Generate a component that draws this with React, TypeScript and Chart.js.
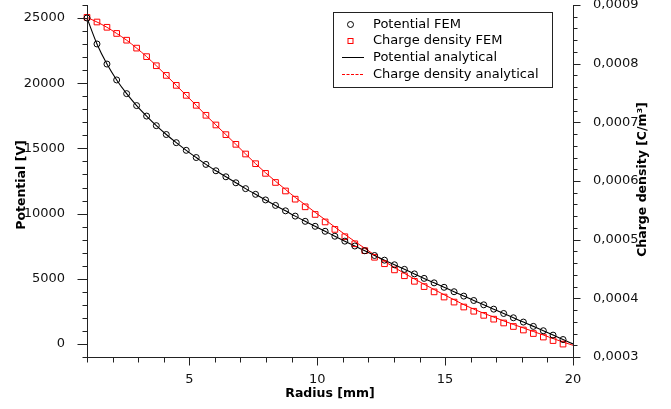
import React, { useEffect, useRef } from 'react';
import { Chart, registerables } from 'chart.js';

Chart.register(...registerables);

// Radius nodes [mm]
const radius = [
  1.0, 1.39, 1.78, 2.16, 2.55, 2.94, 3.33, 3.71, 4.1, 4.49,
  4.88, 5.27, 5.65, 6.04, 6.43, 6.82, 7.2, 7.59, 7.98, 8.37,
  8.76, 9.14, 9.53, 9.92, 10.31, 10.69, 11.08, 11.47, 11.86, 12.24,
  12.63, 13.02, 13.41, 13.8, 14.18, 14.57, 14.96, 15.35, 15.73, 16.12,
  16.51, 16.9, 17.29, 17.67, 18.06, 18.45, 18.84, 19.22, 19.61, 20.0,
];

// Potential FEM [V] (nodes 0..48)
const potentialFEM = [
  25000, 23010, 21470, 20250, 19200, 18285, 17480, 16745, 16065, 15440,
  14852, 14300, 13772, 13285, 12823, 12363, 11915, 11477, 11048, 10627,
  10213, 9806, 9406, 9024, 8643, 8264, 7886, 7514, 7148, 6786,
  6428, 6074, 5723, 5375, 5030, 4687, 4346, 4007, 3670, 3335,
  3002, 2670, 2339, 2009, 1679, 1349, 1015, 678, 340,
];

// Charge density FEM [C/m^3] (nodes 0..48)
const chargeFEM = [
  0.000879, 0.000871, 0.000862, 0.0008515, 0.00084, 0.0008265, 0.000812, 0.0007965, 0.00078, 0.000763,
  0.000746, 0.000729, 0.000712, 0.0006955, 0.000679, 0.0006625, 0.000646, 0.0006295, 0.000613, 0.0005975,
  0.000583, 0.000569, 0.000556, 0.000543, 0.0005302, 0.0005175, 0.000505, 0.000493, 0.0004813, 0.00047,
  0.000459, 0.0004485, 0.0004385, 0.000429, 0.00042, 0.000411, 0.0004022, 0.0003936, 0.0003852, 0.000378,
  0.000371, 0.0003645, 0.000358, 0.000352, 0.000346, 0.00034, 0.000334, 0.000328, 0.000322,
];

// Potential analytical [V] (nodes 0..49)
const potentialAnalytical = [
  25000, 23010, 21470, 20250, 19200, 18285, 17480, 16745, 16065, 15440,
  14852, 14300, 13772, 13285, 12823, 12363, 11915, 11477, 11048, 10627,
  10213, 9806, 9406, 9024, 8643, 8264, 7886, 7514, 7148, 6786,
  6428, 6074, 5723, 5375, 5030, 4687, 4346, 4007, 3670, 3335,
  3002, 2670, 2339, 2009, 1679, 1349, 1015, 678, 340, 0,
];

// Charge density analytical [C/m^3] (nodes 0..49)
const chargeAnalytical = [
  0.000879, 0.000871, 0.000862, 0.0008515, 0.00084, 0.0008265, 0.000812, 0.0007965, 0.00078, 0.000763,
  0.000746, 0.000729, 0.000712, 0.0006955, 0.000679, 0.0006625, 0.000646, 0.0006295, 0.000614, 0.0005995,
  0.0005855, 0.000572, 0.0005595, 0.0005465, 0.000534, 0.0005215, 0.000509, 0.000497, 0.0004853, 0.000474,
  0.000463, 0.0004525, 0.0004425, 0.000433, 0.000424, 0.000415, 0.0004062, 0.0003976, 0.0003892, 0.0003815,
  0.0003745, 0.000368, 0.0003615, 0.0003555, 0.0003495, 0.0003435, 0.0003375, 0.0003315, 0.0003255, 0.00032,
];

// Axis tick labels
const xMajorTicks = [5, 10, 15, 20];
const potentialMajorTicks = [0, 5000, 10000, 15000, 20000, 25000];
const chargeMajorTicks = [0.0003, 0.0004, 0.0005, 0.0006, 0.0007, 0.0008, 0.0009];

const legendLabels = ['Potential FEM', 'Charge density FEM', 'Potential analytical', 'Charge density analytical'];

const FONT = "'DejaVu Sans', sans-serif";

export default function App() {
  const ref = useRef<HTMLCanvasElement>(null);

  useEffect(() => {
    const canvas = ref.current;
    if (!canvas) return;

    const xTickVals: number[] = [];
    for (let v = 1; v <= 20; v++) xTickVals.push(v);
    const yTickVals: number[] = [];
    for (let v = -1000; v <= 26000; v += 1000) yTickVals.push(v);
    const y1TickVals: number[] = [];
    for (let i = 0; i <= 30; i++) y1TickVals.push(+(0.0003 + i * 0.00002).toFixed(6));

    const isMajorCharge = (v: number) => chargeMajorTicks.some((m) => Math.abs(m - v) < 1e-9);

    const zeroPad = (s: any) => {
      s.paddingTop = 0; s.paddingBottom = 0; s.paddingLeft = 0; s.paddingRight = 0;
    };

    const decor = {
      id: 'decor',
      afterDraw(chart: any) {
        const { ctx, chartArea: a, scales } = chart;
        const xs = scales.x, ys = scales.y, y1 = scales.y1;
        ctx.save();
        ctx.lineWidth = 1;
        ctx.strokeStyle = '#222';
        const L = a.left + 0.5, R = a.right + 0.5, B = a.bottom + 0.5;
        ctx.beginPath();
        ctx.moveTo(L, a.top); ctx.lineTo(L, B);
        ctx.moveTo(a.left, B); ctx.lineTo(R, B);
        ctx.moveTo(R, a.top); ctx.lineTo(R, B);
        xTickVals.forEach((v) => {
          const px = Math.round(xs.getPixelForValue(v)) + 0.5;
          const len = xMajorTicks.includes(v) ? 8 : 5;
          ctx.moveTo(px, B); ctx.lineTo(px, B + len);
        });
        yTickVals.forEach((v) => {
          const py = Math.round(ys.getPixelForValue(v)) + 0.5;
          const len = potentialMajorTicks.includes(v) ? 10 : 5;
          ctx.moveTo(L, py); ctx.lineTo(L - len, py);
        });
        y1TickVals.forEach((v) => {
          const py = Math.round(y1.getPixelForValue(v)) + 0.5;
          const len = isMajorCharge(v) ? 7 : 4;
          ctx.moveTo(R, py); ctx.lineTo(R + len, py);
        });
        ctx.stroke();

        // axis titles
        ctx.fillStyle = '#000';
        ctx.font = `bold 12.5px ${FONT}`;
        ctx.textAlign = 'center';
        ctx.textBaseline = 'middle';
        ctx.fillText('Radius [mm]', (a.left + a.right) / 2, 393.5);
        ctx.save();
        ctx.translate(21.5, 185);
        ctx.rotate(-Math.PI / 2);
        ctx.fillText('Potential [V]', 0, 0);
        ctx.restore();
        ctx.save();
        ctx.translate(643, 179.5);
        ctx.rotate(-Math.PI / 2);
        ctx.fillText('Charge density [C/m³]', 0, 0);
        ctx.restore();

        // legend
        const bx = 333.5, by = 12.5, bw = 219, bh = 75;
        ctx.fillStyle = '#fff';
        ctx.fillRect(bx, by, bw, bh);
        ctx.strokeStyle = '#222';
        ctx.strokeRect(bx, by, bw, bh);
        const rows = [24.5, 41, 57.5, 74.5];
        const sx = 350.5;
        ctx.beginPath();
        ctx.strokeStyle = '#000';
        ctx.arc(sx, rows[0], 3, 0, Math.PI * 2);
        ctx.stroke();
        ctx.strokeStyle = '#ff0000';
        ctx.strokeRect(sx - 2.5, 38.5, 5, 5);
        ctx.strokeStyle = '#000';
        ctx.beginPath();
        ctx.moveTo(342, rows[2]); ctx.lineTo(364, rows[2]);
        ctx.stroke();
        ctx.strokeStyle = '#ff0000';
        ctx.setLineDash([3, 1.5]);
        ctx.beginPath();
        ctx.moveTo(342, rows[3]); ctx.lineTo(364, rows[3]);
        ctx.stroke();
        ctx.setLineDash([]);
        ctx.fillStyle = '#000';
        ctx.font = `13px ${FONT}`;
        ctx.textAlign = 'left';
        ctx.textBaseline = 'middle';
        legendLabels.forEach((t, i) => ctx.fillText(t, 373, rows[i]));
        ctx.restore();
      },
    };

    const tickFont = { family: FONT, size: 13 };

    const chart = new Chart(canvas, {
      type: 'line',
      data: {
        datasets: [
          {
            label: legendLabels[0],
            data: potentialFEM.map((y, i) => ({ x: radius[i], y })),
            yAxisID: 'y',
            showLine: false,
            pointStyle: 'circle',
            pointRadius: 3,
            borderColor: '#000',
            backgroundColor: 'rgba(0,0,0,0)',
            pointBorderWidth: 1,
            clip: false,
            order: 1,
          },
          {
            label: legendLabels[1],
            data: chargeFEM.map((y, i) => ({ x: radius[i], y })),
            yAxisID: 'y1',
            showLine: false,
            pointStyle: 'rect',
            pointRadius: 4,
            borderColor: '#ff0000',
            backgroundColor: 'rgba(0,0,0,0)',
            pointBorderWidth: 1,
            clip: false,
            order: 2,
          },
          {
            label: legendLabels[2],
            data: potentialAnalytical.map((y, i) => ({ x: radius[i], y })),
            yAxisID: 'y',
            pointRadius: 0,
            borderWidth: 1.1,
            borderColor: '#000',
            cubicInterpolationMode: 'monotone',
            fill: false,
            order: 3,
          },
          {
            label: legendLabels[3],
            data: chargeAnalytical.map((y, i) => ({ x: radius[i], y })),
            yAxisID: 'y1',
            pointRadius: 0,
            borderWidth: 1,
            borderColor: '#ff0000',
            cubicInterpolationMode: 'monotone',
            fill: false,
            order: 4,
          },
        ],
      },
      options: {
        responsive: false,
        animation: false,
        devicePixelRatio: 1,
        layout: { padding: { top: 5, left: 0, right: 0, bottom: 0 } },
        plugins: { legend: { display: false }, tooltip: { enabled: false } },
        scales: {
          x: {
            type: 'linear',
            min: 1,
            max: 20,
            afterBuildTicks: (s: any) => { s.ticks = xTickVals.map((v) => ({ value: v })); },
            afterFit: (s: any) => { s.height = 52; zeroPad(s); },
            grid: { display: false },
            border: { display: false },
            ticks: {
              autoSkip: false,
              maxRotation: 0,
              padding: 7,
              font: tickFont,
              color: '#111',
              callback: (v: any) => (xMajorTicks.includes(Number(v)) ? String(v) : ''),
            },
          },
          y: {
            type: 'linear',
            position: 'left',
            min: -1000,
            max: 26000,
            afterBuildTicks: (s: any) => { s.ticks = yTickVals.map((v) => ({ value: v })); },
            afterFit: (s: any) => { s.width = 87; zeroPad(s); },
            grid: { display: false },
            border: { display: false },
            ticks: {
              autoSkip: false,
              padding: 14,
              font: tickFont,
              color: '#111',
              callback: (v: any) => (potentialMajorTicks.includes(Number(v)) ? String(v) : ''),
            },
          },
          y1: {
            type: 'linear',
            position: 'right',
            min: 0.0003,
            max: 0.0009,
            afterBuildTicks: (s: any) => { s.ticks = y1TickVals.map((v) => ({ value: v })); },
            afterFit: (s: any) => { s.width = 98; zeroPad(s); },
            grid: { display: false },
            border: { display: false },
            ticks: {
              autoSkip: false,
              padding: 12,
              font: tickFont,
              color: '#111',
              callback: (v: any) => (isMajorCharge(Number(v)) ? Number(v).toFixed(4).replace('.', ',') : ''),
            },
          },
        },
      },
      plugins: [decor],
    } as any);

    return () => chart.destroy();
  }, []);

  return (
    <div style={{ position: 'fixed', left: 0, top: 0, width: 671, height: 409, background: '#fff' }}>
      <canvas ref={ref} width={671} height={409} style={{ display: 'block' }} />
    </div>
  );
}
